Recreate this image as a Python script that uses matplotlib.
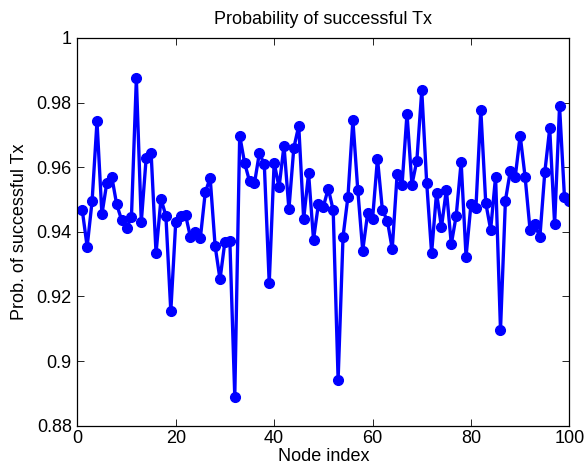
import matplotlib
matplotlib.use('Agg')
import matplotlib.pyplot as plt
import numpy as np

node_index = np.arange(1, 101)
prob_tx = [
    0.9468, 0.9354, 0.9494, 0.9742, 0.9454, 0.9552, 0.9571, 0.9485, 0.9437, 0.9412,
    0.9445, 0.9875, 0.9430, 0.9630, 0.9644, 0.9334, 0.9502, 0.9450, 0.9154, 0.9430,
    0.9450, 0.9452, 0.9383, 0.9400, 0.9380, 0.9522, 0.9567, 0.9357, 0.9253, 0.9370,
    0.9373, 0.8889, 0.9698, 0.9613, 0.9557, 0.9550, 0.9644, 0.9609, 0.9241, 0.9614,
    0.9538, 0.9667, 0.9470, 0.9660, 0.9728, 0.9440, 0.9581, 0.9376, 0.9486, 0.9478,
    0.9534, 0.9467, 0.8942, 0.9385, 0.9509, 0.9746, 0.9529, 0.9342, 0.9457, 0.9440,
    0.9627, 0.9467, 0.9435, 0.9347, 0.9580, 0.9546, 0.9766, 0.9546, 0.9620, 0.9838,
    0.9552, 0.9334, 0.9521, 0.9414, 0.9531, 0.9362, 0.9450, 0.9616, 0.9323, 0.9486,
    0.9473, 0.9777, 0.9490, 0.9407, 0.9571, 0.9096, 0.9497, 0.9589, 0.9571, 0.9698,
    0.9570, 0.9407, 0.9423, 0.9383, 0.9584, 0.9720, 0.9423, 0.9789, 0.9507, 0.9495,
]
y_ticks = [0.88, 0.9, 0.92, 0.94, 0.96, 0.98, 1]
y_labels = ['0.88', '0.9', '0.92', '0.94', '0.96', '0.98', '1']
x_ticks = [0, 20, 40, 60, 80, 100]

plt.rcParams['font.family'] = ['Liberation Sans', 'DejaVu Sans']
plt.rcParams['font.size'] = 13

fig = plt.figure(figsize=(5.87, 4.69), dpi=100)
ax = fig.add_axes([0.1317, 0.0923, 0.8383, 0.8267])

ax.plot(node_index, prob_tx, color='#0000ff', linewidth=2.4, marker='o',
        markersize=7, markeredgecolor='#0000ff')

ax.set_xlim(0, 100)
ax.set_ylim(0.88, 1)
ax.set_xticks(x_ticks)
ax.set_yticks(y_ticks)
ax.set_yticklabels(y_labels)
ax.tick_params(direction='in', length=5, top=True, right=True, width=0.6)
ax.tick_params(axis='y', pad=4)
ax.tick_params(axis='x', pad=3)
for s in ax.spines.values():
    s.set_linewidth(0.9)

ax.set_title('Probability of successful Tx', fontsize=13, pad=10)
ax.set_xlabel('Node index', labelpad=1)
ax.set_ylabel('Prob. of successful Tx', labelpad=6)

fig.savefig('out.png', dpi=100)
